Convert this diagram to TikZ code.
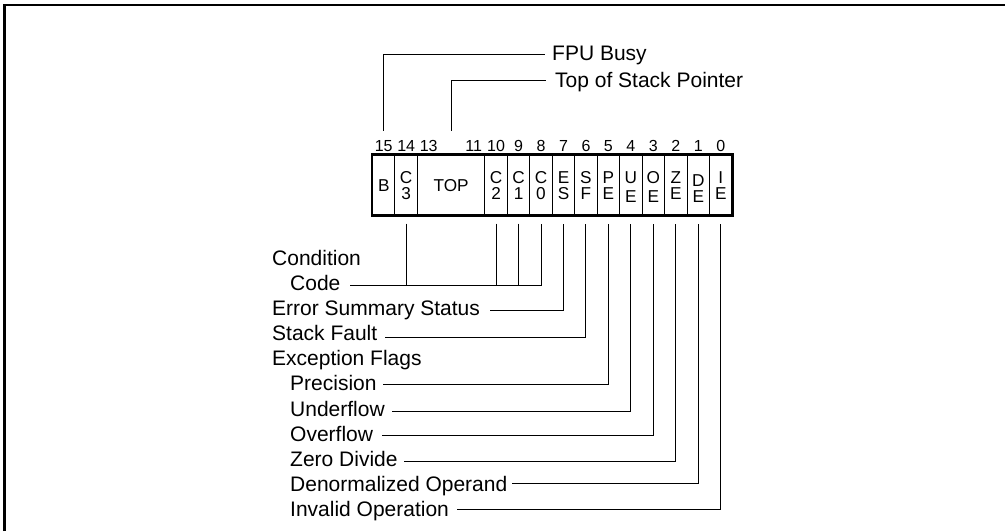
\documentclass[tikz,border=0pt]{standalone}
\usepackage{fontspec}
\setmainfont{Liberation Sans}
\begin{document}
\begin{tikzpicture}[x=1pt,y=-1pt,
  lbl/.style={font=\fontsize{21}{25}\selectfont, inner sep=0pt, anchor=base west},
  bitno/.style={font=\fontsize{16}{19}\selectfont, inner sep=0pt, anchor=base},
  celltxt/.style={font=\fontsize{17.2}{20}\selectfont, inner sep=0pt, anchor=base},
  cellbox/.style={draw, line width=1pt, minimum height=60pt, minimum width=22.47pt, inner sep=0pt},
  lead/.style={line width=1pt},
  frameline/.style={line width=2.7pt},
  regframe/.style={line width=2.5pt}]
\useasboundingbox (0,0) rectangle (1005,531);
\draw[frameline] (4.7,531) |- (1005,5);

% register cells
\node[cellbox] (c15) at ({372.5+0.5*22.47},185) {};
\node[cellbox] (c14) at ({372.5+1.5*22.47},185) {};
\node[cellbox, minimum width=67.41pt] (top) at ({372.5+3.5*22.47},185) {};
\foreach \b in {10,9,8,7,6,5,4,3,2,1,0}
  \node[cellbox] (c\b) at ({372.5+(15.5-\b)*22.47},185) {};
\draw[regframe] (c15.north west) rectangle (c0.south east);

% cell texts
\path (c15.center) ++(0,6) node[celltxt] (tb) {B};
\path (top.center) ++(0,6) node[celltxt] (ttop) {TOP};
\foreach \b/\t/\u/\dt/\du in {14/C/3/0/0, 10/C/2/0/0, 9/C/1/0/0, 8/C/0/0/0,
    7/E/S/0/0, 6/S/F/0/0, 5/P/E/0/0, 4/U/E/0/2.5, 3/O/E/0/2.5,
    2/Z/E/0/0, 1/D/E/3/2.5, 0/I/E/0/0} {
  \path (c\b.center) ++(0,{-2+\dt}) node[celltxt] (ta\b) {\t};
  \path (c\b.center) ++(0,{14.5+\du}) node[celltxt] (tz\b) {\u};
}

% bit numbers
\foreach \b in {15,14,13,11,10,9,8,7,6,5,4,3,2,1,0}
  \node[bitno] (n\b) at ({372.5+(15.5-\b)*22.47},151) {\b};

% upper labels
\node[lbl] (busy) at (552,60.5) {FPU Busy};
\node[lbl] (tos) at (555,87.3) {Top of Stack Pointer};
\coordinate (busyL) at (545,54);
\coordinate (tosL) at (546,80.7);
\draw[lead] ([yshift=24pt]c15.north) |- (busyL);
\draw[lead] ([yshift=24pt]top.north) |- (tosL);

% lower labels
\node[lbl] (cond) at (272,265) {Condition};
\node[lbl] (code) at (290,290.2) {Code};
\node[lbl] (ess)  at (272,315.3) {Error Summary Status};
\node[lbl] (sf)   at (272,340.5) {Stack Fault};
\node[lbl] (exc)  at (272,365.7) {Exception Flags};
\node[lbl] (pe)   at (290,390.8) {Precision};
\node[lbl] (ue)   at (290,416) {Underflow};
\node[lbl] (oe)   at (290,441.2) {Overflow};
\node[lbl] (ze)   at (290,466.4) {Zero Divide};
\node[lbl] (de)   at (290,491.5) {Denormalized Operand};
\node[lbl] (ie)   at (290,516.7) {Invalid Operation};

\coordinate (codeL) at (350,285);
\coordinate (essL) at (490,310);
\coordinate (sfL) at (385,337);
\coordinate (peL) at (383,384);
\coordinate (ueL) at (392,411);
\coordinate (oeL) at (382,435);
\coordinate (zeL) at (404,461);
\coordinate (deL) at (512,483);
\coordinate (ieL) at (457,509);

\draw[lead] (codeL) -| ([yshift=-8pt]c8.south);
\foreach \b in {14,10,9}
  \draw[lead] ([yshift=-8pt]c\b.south) -- (c\b.south |- codeL);
\draw[lead] (essL) -| ([yshift=-8pt]c7.south);
\draw[lead] (sfL) -| ([yshift=-8pt]c6.south);
\draw[lead] (peL) -| ([yshift=-8pt]c5.south);
\draw[lead] (ueL) -| ([yshift=-8pt]c4.south);
\draw[lead] (oeL) -| ([yshift=-8pt]c3.south);
\draw[lead] (zeL) -| ([yshift=-8pt]c2.south);
\draw[lead] (deL) -| ([yshift=-8pt]c1.south);
\draw[lead] (ieL) -| ([yshift=-8pt]c0.south);
\end{tikzpicture}
\end{document}
